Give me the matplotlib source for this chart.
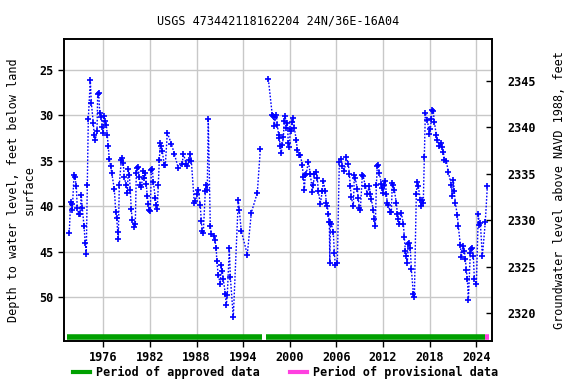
import matplotlib
matplotlib.use("Agg")
import matplotlib.pyplot as plt
from matplotlib.lines import Line2D

plt.rcParams["font.family"] = ["DejaVu Sans Mono"]
plt.rcParams["font.weight"] = "bold"
plt.rcParams["font.size"] = 8.5

# water levels, first approved period (1971-1996)
years_a = [1971.62, 1971.80, 1971.93, 1972.01, 1972.23, 1972.36, 1972.53, 1972.65, 1972.83, 1973.00,
           1973.17, 1973.30, 1973.52, 1973.68, 1973.81, 1973.94, 1974.07, 1974.33, 1974.46, 1974.71,
           1974.84, 1974.97, 1975.19, 1975.28, 1975.41, 1975.54, 1975.74, 1975.87, 1976.00, 1976.09,
           1976.18, 1976.39, 1976.51, 1976.64, 1976.77, 1976.95, 1977.08, 1977.42, 1977.60, 1977.72,
           1977.85, 1977.93, 1978.06, 1978.32, 1978.45, 1978.57, 1978.70, 1978.96, 1979.09, 1979.22,
           1979.35, 1979.47, 1979.60, 1979.73, 1979.99, 1980.12, 1980.25, 1980.38, 1980.50, 1980.63,
           1980.76, 1980.89, 1981.15, 1981.28, 1981.41, 1981.53, 1981.66, 1981.79, 1981.92, 1982.05,
           1982.18, 1982.31, 1982.44, 1982.69, 1982.82, 1982.95, 1983.08, 1983.21, 1983.34, 1983.46,
           1983.59, 1983.85, 1983.98, 1984.24, 1984.75, 1985.14, 1985.65, 1986.17, 1986.30, 1986.68,
           1986.81, 1987.07, 1987.20, 1987.33, 1987.71, 1987.84, 1988.10, 1988.23, 1988.48, 1988.61,
           1988.74, 1988.87, 1989.13, 1989.26, 1989.38, 1989.51, 1989.77, 1989.90, 1990.29, 1990.35,
           1990.54, 1990.60, 1990.80, 1991.06, 1991.19, 1991.32, 1991.44, 1991.70, 1991.83, 1991.96,
           1992.22, 1992.35, 1992.73, 1993.37, 1993.50, 1993.76, 1994.53, 1995.05, 1995.82, 1996.21]
depth_a = [42.9, 39.5, 39.7, 40.4, 36.6, 36.8, 37.8, 40.2, 40.8, 40.8,
           38.8, 40.2, 42.2, 44.0, 45.2, 37.7, 30.4, 26.1, 28.6, 30.8,
           32.2, 32.7, 31.7, 27.6, 27.5, 29.7, 30.2, 31.3, 31.9, 30.1,
           30.6, 31.0, 32.1, 33.4, 34.8, 35.6, 36.3, 38.1, 40.6, 41.3,
           42.8, 43.6, 37.6, 34.9, 34.7, 35.2, 36.8, 37.7, 38.5, 35.9,
           36.5, 38.2, 40.3, 41.5, 42.3, 41.9, 36.3, 35.8, 35.7, 36.8,
           37.6, 37.9, 36.1, 36.9, 36.3, 37.5, 38.9, 39.7, 40.4, 40.5,
           36.0, 35.9, 37.3, 39.1, 39.9, 40.3, 37.7, 34.9, 33.0, 33.4,
           33.9, 35.5, 35.5, 31.9, 33.1, 34.2, 35.8, 35.3, 34.2, 35.3,
           35.6, 34.9, 34.2, 35.0, 39.6, 39.4, 38.6, 38.2, 39.9, 41.6,
           42.7, 42.9, 38.3, 37.7, 38.2, 30.4, 42.2, 43.0, 43.3, 43.7,
           44.6, 46.0, 47.6, 48.5, 46.5, 47.1, 48.0, 49.6, 50.9, 49.7,
           44.6, 47.8, 52.2, 39.3, 40.4, 42.7, 45.3, 40.7, 38.5, 33.7]

# second period (1997-2025)
years_b = [1997.24, 1997.75, 1997.88, 1998.01, 1998.14, 1998.27, 1998.39, 1998.57, 1998.65, 1998.78,
           1998.91, 1999.04, 1999.17, 1999.29, 1999.42, 1999.55, 1999.68, 1999.81, 1999.94, 2000.07,
           2000.20, 2000.32, 2000.45, 2000.58, 2000.84, 2000.97, 2001.23, 2001.35, 2001.61, 2001.74,
           2001.87, 2002.00, 2002.13, 2002.38, 2002.64, 2002.90, 2003.03, 2003.16, 2003.41, 2003.54,
           2003.67, 2003.93, 2004.19, 2004.31, 2004.57, 2004.70, 2004.83, 2004.96, 2005.09, 2005.15,
           2005.22, 2005.34, 2005.60, 2005.73, 2005.86, 2006.12, 2006.37, 2006.63, 2006.76, 2007.02,
           2007.27, 2007.53, 2007.66, 2007.79, 2007.92, 2008.18, 2008.30, 2008.43, 2008.69, 2008.82,
           2008.95, 2009.08, 2009.33, 2009.46, 2009.72, 2009.98, 2010.23, 2010.36, 2010.49, 2010.75,
           2010.88, 2011.01, 2011.14, 2011.26, 2011.39, 2011.52, 2011.78, 2011.91, 2012.04, 2012.16,
           2012.29, 2012.42, 2012.55, 2012.68, 2012.94, 2013.07, 2013.19, 2013.32, 2013.45, 2013.71,
           2013.84, 2013.97, 2014.10, 2014.35, 2014.61, 2014.74, 2014.87, 2015.00, 2015.12, 2015.25,
           2015.38, 2015.51, 2015.64, 2015.90, 2016.03, 2016.28, 2016.41, 2016.54, 2016.80, 2016.93,
           2017.06, 2017.18, 2017.31, 2017.44, 2017.70, 2017.96, 2018.09, 2018.21, 2018.34, 2018.47,
           2018.60, 2018.86, 2018.99, 2019.24, 2019.50, 2019.63, 2019.76, 2019.89, 2020.14, 2020.40,
           2020.79, 2020.92, 2021.05, 2021.17, 2021.30, 2021.56, 2021.69, 2021.95, 2022.08, 2022.33,
           2022.46, 2022.59, 2022.72, 2022.85, 2022.98, 2023.23, 2023.36, 2023.49, 2023.62, 2023.75,
           2024.01, 2024.26, 2024.39, 2024.52, 2024.78, 2025.16, 2025.42]
depth_b = [26.0, 30.0, 30.1, 31.2, 30.2, 29.9, 31.0, 32.2, 32.5, 33.4,
           34.1, 33.2, 32.4, 30.6, 30.1, 31.4, 30.8, 33.0, 33.5, 31.5,
           31.7, 30.7, 30.3, 31.4, 32.7, 33.8, 34.4, 34.4, 35.4, 36.8,
           38.2, 36.5, 36.4, 35.1, 36.4, 38.4, 37.7, 36.4, 36.2, 36.9,
           38.3, 39.7, 38.3, 37.2, 38.3, 39.6, 40.0, 40.8, 41.7, 46.2,
           41.7, 41.9, 42.8, 45.1, 46.5, 46.2, 35.1, 34.8, 35.6, 36.1,
           34.6, 35.3, 36.4, 37.8, 39.0, 40.0, 36.6, 36.9, 38.1, 39.1,
           40.2, 40.4, 36.6, 36.7, 37.8, 38.6, 37.8, 38.6, 39.2, 40.4,
           41.4, 42.2, 37.7, 35.6, 35.5, 36.3, 37.5, 38.0, 38.5, 37.7,
           37.2, 38.6, 39.6, 39.9, 40.6, 40.6, 37.4, 37.7, 38.2, 39.6,
           40.8, 41.4, 41.9, 40.7, 41.9, 43.4, 44.9, 45.5, 46.2, 44.1,
           44.0, 44.6, 46.9, 49.6, 50.0, 38.6, 37.3, 37.8, 39.3, 40.0,
           39.3, 39.6, 34.6, 29.7, 30.5, 32.0, 31.5, 30.4, 29.4, 29.5,
           30.7, 32.2, 32.7, 33.4, 33.0, 33.5, 34.0, 34.9, 35.0, 36.2,
           37.7, 38.9, 37.1, 38.3, 39.6, 41.0, 42.2, 44.3, 45.6, 44.4,
           44.9, 45.8, 47.0, 48.0, 50.3, 45.1, 44.7, 44.6, 45.5, 48.0,
           48.5, 40.8, 42.1, 41.8, 45.5, 41.7, 37.8]

approved_periods = [(1971.37, 1996.39), (1996.94, 2025.12)]
provisional_periods = [(2025.12, 2025.63)]
period_depth = 54.33

x_ticks = [1976, 1982, 1988, 1994, 2000, 2006, 2012, 2018, 2024]
left_ticks = [25, 30, 35, 40, 45, 50]
right_ticks = [2320, 2325, 2330, 2335, 2340, 2345]

fig = plt.figure(figsize=(5.76, 3.84), dpi=100)
ax = fig.add_axes([0.1116, 0.112, 0.7431, 0.7857])

ax.grid(True, color="#c8c8c8", linewidth=1.0)
ax.set_axisbelow(True)

for yrs, dep in [(years_a, depth_a), (years_b, depth_b)]:
    ax.plot(yrs, dep, color="blue", linestyle=(0, (1.2, 1.2)), linewidth=1.0,
            marker="+", markersize=5, markeredgewidth=1.2)

for start, end in approved_periods:
    ax.plot([start, end], [period_depth, period_depth], color="#00a000", linewidth=4,
            solid_capstyle="butt")
for start, end in provisional_periods:
    ax.plot([start, end], [period_depth, period_depth], color="#ff40e0", linewidth=4,
            solid_capstyle="butt")

ax.set_xlim(1970.98, 2026.06)
ax.set_ylim(54.81, 21.62)
ax.set_xticks(x_ticks)
ax.set_yticks(left_ticks)
ax.tick_params(direction="out", length=4, width=1)
ax.set_ylabel("Depth to water level, feet below land\nsurface", labelpad=3)
ax.set_title("USGS 473442118162204 24N/36E-16A04", fontsize=8.5, pad=11)

ax2 = ax.twinx()
ax2.set_ylim(2317.02, 2349.45)
ax2.set_yticks(right_ticks)
ax2.tick_params(direction="in", length=4, width=1, pad=11)
ax2.set_ylabel("Groundwater level above NAVD 1988, feet", labelpad=12)

for a in (ax, ax2):
    for s in a.spines.values():
        s.set_linewidth(1.2)

handles = [Line2D([], [], color="#00a000", linewidth=3),
           Line2D([], [], color="#ff40e0", linewidth=3)]
fig.legend(handles, ["Period of approved data", "Period of provisional data"],
           loc="center", bbox_to_anchor=(0.496, 0.03), ncol=2, frameon=False,
           handlelength=1.5, columnspacing=2.5, handletextpad=0.5)

fig.savefig("out.png", dpi=100)
